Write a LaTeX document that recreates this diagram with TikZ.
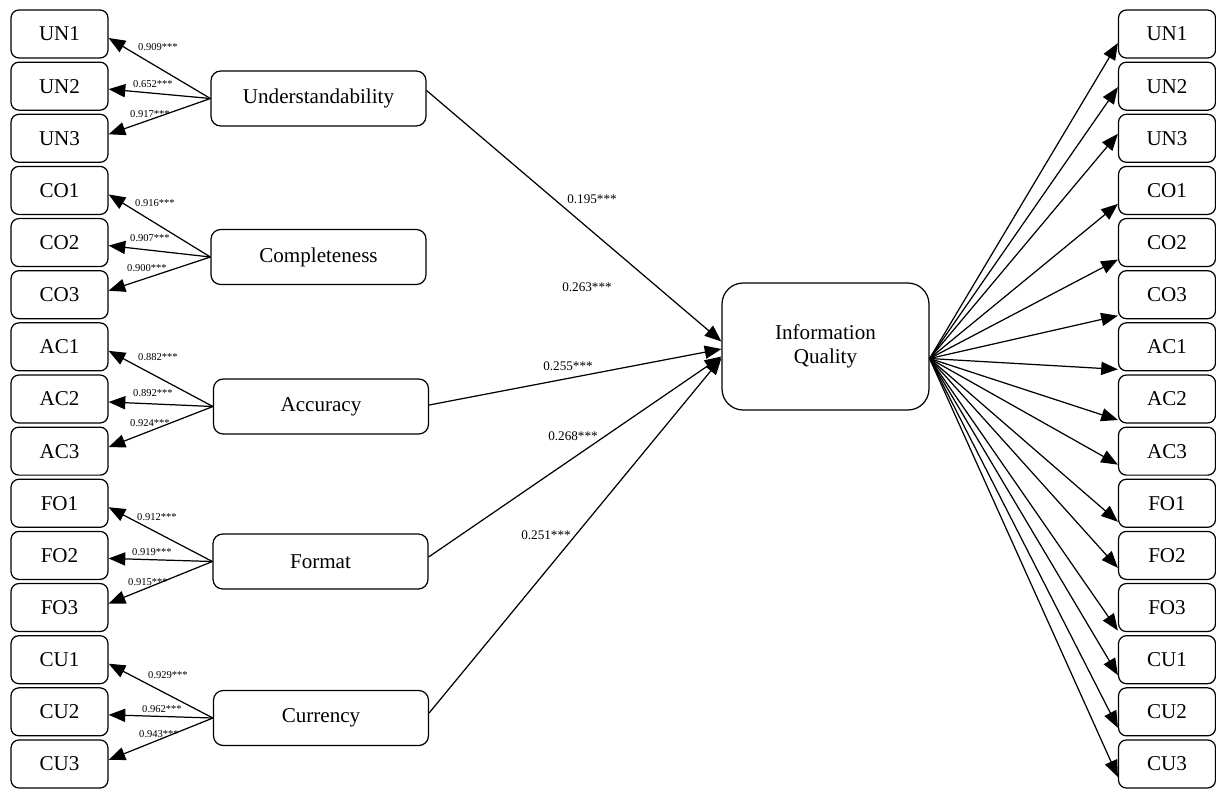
\documentclass[tikz,border=0pt]{standalone}
\usepackage{fontspec}
\setmainfont{Liberation Serif}
\usetikzlibrary{arrows.meta,calc}

\begin{document}
\begin{tikzpicture}[x=0.02cm,y=-0.02cm,line width=0.7pt,
    every node/.style={font=\fontsize{12}{14}\selectfont}]
  \tikzset{
    ind/.style={draw,rounded corners=4.5pt,minimum width=1.94cm,minimum height=0.96cm,inner sep=0pt},
    lat/.style={draw,rounded corners=5.5pt,minimum width=4.3cm,minimum height=1.1cm,inner sep=0pt},
    iqbox/.style={draw,rounded corners=12pt,minimum width=4.14cm,minimum height=2.54cm,align=center},
    load/.style={font=\fontsize{6}{7}\selectfont,inner sep=0pt},
    coef/.style={font=\fontsize{7.5}{9}\selectfont,inner sep=0pt},
    arr/.style={-{Triangle[length=9.5pt,width=7.5pt]}}
  }
  \useasboundingbox (0,0) rectangle (1216,789);
  % indicators, left and right
  \foreach \lab [count=\k from 0] in {UN1,UN2,UN3,CO1,CO2,CO3,AC1,AC2,AC3,FO1,FO2,FO3,CU1,CU2,CU3} {
    \node[ind] (l\k) at (59.5,{34+52.14*\k}) {\lab};
    \node[ind] (r\k) at (1167,{34+52.14*\k}) {\lab};
  }
  % constructs
  \node[lat] (un) at (318.5,98.5) {Understandability};
  \node[lat] (co) at (318.5,257) {Completeness};
  \node[lat] (ac) at (321,406.5) {Accuracy};
  \node[lat] (fo) at (320.5,561.5) {Format};
  \node[lat] (cu) at (321,718) {Currency};
  \node[iqbox] (iq) at (825.5,346.5) {Information\\Quality};
  % outer loadings
  \foreach \lv [count=\g from 0] in {un,co,ac,fo,cu} {
    \pgfmathtruncatemacro\ia{3*\g}
    \pgfmathtruncatemacro\ib{3*\g+1}
    \pgfmathtruncatemacro\ic{3*\g+2}
    \draw[arr] (\lv.west) -- ($(l\ia.east)+(0,4)$);
    \draw[arr] (\lv.west) -- ($(l\ib.east)+(0,3)$);
    \draw[arr] (\lv.west) -- ($(l\ic.east)+(0,-4)$);
  }
  \foreach \v/\x/\y [count=\k] in {0.909/158/47,0.652/153/84,0.917/150/114,
      0.916/155/203,0.907/150/238,0.900/147/268,0.882/158/357,0.892/153/393,0.924/150/423,
      0.912/157/517,0.919/152/552,0.915/148/582,0.929/168/675,0.962/162/709,0.943/159/734}
    \node[load] (w\k) at (\x,\y) {\v***};
  % structural paths
  \draw[arr] ($(un.east)+(0,-8)$) -- ($(iq.west)+(0,-5)$);
  \draw[arr] ($(ac.east)+(0,-1.5)$) -- ($(iq.west)+(0,2.5)$);
  \draw[arr] ($(fo.east)+(0,-4.5)$) -- ($(iq.west)+(0,10)$);
  \draw[arr] ($(cu.east)+(0,-5)$) -- ($(iq.west)+(0,11.5)$);
  \foreach \v/\x/\y [count=\k] in {0.195/592/199,0.263/587/287,0.255/568/366,0.268/573/436,0.251/546/535}
    \node[coef] (p\k) at (\x,\y) {\v***};
  % second order loadings
  \coordinate (hub) at ($(iq.east)+(0,12)$);
  \foreach \off [count=\k from 0] in {9,1,-4.5,13.5,17,21,22.5,21,13.5,18.5,12.5,23,15.5,16,13}
    \draw[arr] (hub) -- ($(r\k.west)+(0,\off)$);
\end{tikzpicture}
\end{document}
